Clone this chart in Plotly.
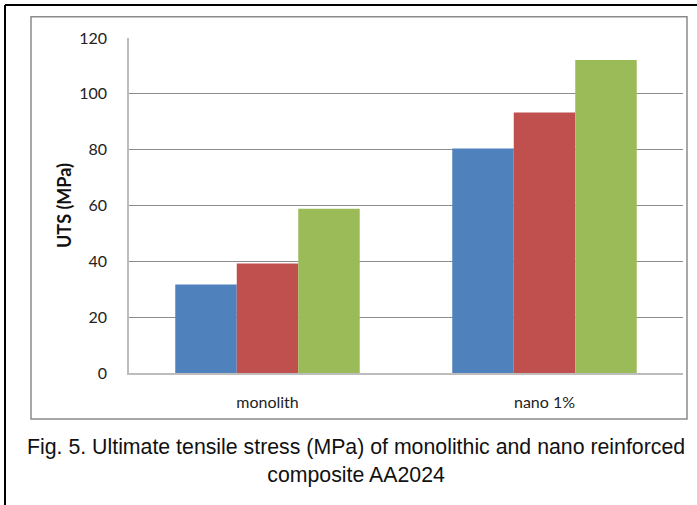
import plotly.graph_objects as go

# Ultimate tensile stress of AA2024, three measurements per material
categories = ["monolith", "nano 1%"]
series_names = ["Series 1", "Series 2", "Series 3"]
uts_series_1 = [31.7, 80.4]
uts_series_2 = [39.2, 93.3]
uts_series_3 = [58.8, 112.1]
y_ticks = [0, 20, 40, 60, 80, 100, 120]
caption_lines = [
    "Fig. 5. Ultimate tensile stress (MPa) of monolithic and nano reinforced",
    "composite AA2024",
]

colors = ["#4F81BD", "#C0504D", "#9BBB59"]
W, H = 697, 505

fig = go.Figure()
for name, vals, col in zip(series_names, [uts_series_1, uts_series_2, uts_series_3], colors):
    fig.add_trace(go.Bar(
        x=categories, y=vals, name=name,
        marker=dict(color=col, line=dict(width=0)),
        showlegend=False,
    ))

def px_x(v):
    return v / W

def px_y(v):
    return 1 - v / H

axis_font = dict(family="Lato, Carlito, sans-serif", size=16, color="#222222")

fig.update_layout(
    width=W, height=H,
    margin=dict(l=0, r=0, t=0, b=0, autoexpand=False),
    paper_bgcolor="white", plot_bgcolor="white",
    barmode="group", bargap=0.334, bargroupgap=0,
    xaxis=dict(
        domain=[px_x(129), px_x(683)], automargin=False,
        showline=True, linecolor="#bdbdbd", linewidth=1.5,
        showgrid=False, ticks="", tickfont=axis_font,
        ticklabelstandoff=14,
    ),
    yaxis=dict(
        domain=[px_y(373), px_y(38)], automargin=False,
        range=[0, 120], tickvals=y_ticks,
        showline=True, linecolor="#bdbdbd", linewidth=1.5,
        showgrid=True, gridcolor="#8c8c8c", gridwidth=1,
        zeroline=False, ticks="", tickfont=axis_font,
        ticklabelstandoff=17,
        title=dict(text="<b>UTS (MPa)</b>",
                   font=dict(family="Lato, Carlito, sans-serif", size=18, color="#111111"),
                   standoff=3),
    ),
    font=dict(family="Lato, sans-serif"),
)

# Chart frame and outer border
fig.add_shape(type="rect", xref="paper", yref="paper",
              x0=px_x(31), x1=px_x(687), y0=px_y(419), y1=px_y(16.7),
              line=dict(color="#8a8a8a", width=1.5), fillcolor="rgba(0,0,0,0)", layer="below")
fig.add_shape(type="line", xref="paper", yref="paper",
              x0=px_x(5), x1=1.01, y0=px_y(5), y1=px_y(5),
              line=dict(color="#000000", width=2))
fig.add_shape(type="line", xref="paper", yref="paper",
              x0=px_x(5), x1=px_x(5), y0=px_y(5), y1=-0.01,
              line=dict(color="#000000", width=2))

# Figure caption
fig.add_annotation(
    xref="paper", yref="paper", x=px_x(356), y=px_y(461),
    text="<br>".join(caption_lines), showarrow=False,
    font=dict(family="Liberation Sans, Arial, sans-serif", size=21.3, color="#111111"),
    align="center", xanchor="center", yanchor="middle",
)

fig.write_html("out.html")
